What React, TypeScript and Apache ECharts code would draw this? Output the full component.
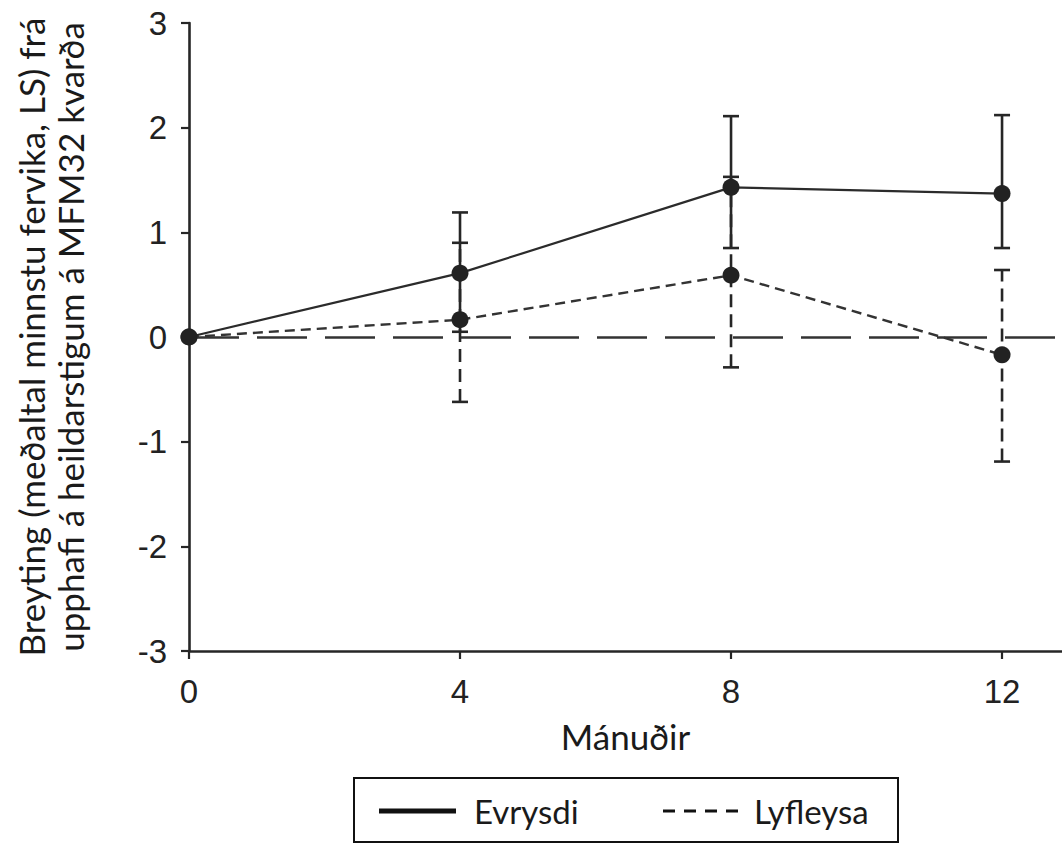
import React, { useEffect, useRef } from "react";
import * as echarts from "echarts";

const months = [0, 4, 8, 12];
const evrysdiMean = [0, 0.61, 1.43, 1.37];
const evrysdiLow = [0, 0.05, 0.85, 0.85];
const evrysdiHigh = [0, 1.19, 2.11, 2.12];
const lyfleysaMean = [0, 0.165, 0.59, -0.17];
const lyfleysaLow = [0, -0.62, -0.29, -1.19];
const lyfleysaHigh = [0, 0.9, 1.53, 0.64];
const xTicks = [0, 4, 8, 12];
const seriesNames = ["Evrysdi", "Lyfleysa"];
const yTitle = "Breyting (meðaltal minnstu fervika, LS) frá\nupphafi á heildarstigum á MFM32 kvarða";
const xTitle = "Mánuðir";

const INK = "#262626";

function errorSeries(name: string, lows: number[], highs: number[], dash: number[] | null, z: number) {
  const data = months
    .map((m, i) => [m, lows[i], highs[i]])
    .filter((d) => d[1] !== d[2]);
  return {
    type: "custom",
    name: name + "-err",
    z,
    silent: true,
    data,
    renderItem: (params: any, api: any) => {
      const x = api.value(0);
      const lo = api.coord([x, api.value(1)]);
      const hi = api.coord([x, api.value(2)]);
      const w = 8;
      const style: any = { stroke: INK, lineWidth: 2.6, lineDash: dash || undefined };
      const capStyle: any = { stroke: INK, lineWidth: 2.6 };
      return {
        type: "group",
        children: [
          { type: "line", shape: { x1: lo[0], y1: lo[1], x2: hi[0], y2: hi[1] }, style },
          { type: "line", shape: { x1: lo[0] - w, y1: lo[1], x2: lo[0] + w, y2: lo[1] }, style: capStyle },
          { type: "line", shape: { x1: hi[0] - w, y1: hi[1], x2: hi[0] + w, y2: hi[1] }, style: capStyle },
        ],
      };
    },
  };
}

export default function App() {
  const ref = useRef<HTMLDivElement>(null);
  useEffect(() => {
    if (!ref.current) return;
    const chart = echarts.init(ref.current, null, { renderer: "svg" });
    const option: any = {
      animation: false,
      backgroundColor: "#ffffff",
      grid: { left: 189, right: 0, top: 23, bottom: 193 },
      xAxis: {
        type: "value",
        min: 0,
        max: 12.885,
        interval: 4,
        name: xTitle,
        nameLocation: "middle",
        nameGap: 67,
        nameTextStyle: { fontFamily: "Lato", fontSize: 35, color: "#1a1a1a" },
        axisLine: { onZero: false, lineStyle: { color: INK, width: 2.6 } },
        axisTick: { show: true, length: 8, lineStyle: { color: INK, width: 2.2 }, customValues: xTicks },
        axisLabel: {
          margin: 24,
          fontFamily: "Liberation Sans",
          fontSize: 33,
          color: "#222",
          customValues: xTicks,
        },
        splitLine: { show: false },
      },
      yAxis: {
        type: "value",
        min: -3,
        max: 3,
        interval: 1,
        name: yTitle,
        nameLocation: "middle",
        nameRotate: 90,
        nameGap: 100,
        nameTextStyle: { fontFamily: "Lato", fontSize: 35, lineHeight: 39, color: "#1a1a1a", align: "center" },
        axisLine: { show: true, onZero: false, lineStyle: { color: INK, width: 2.6 } },
        axisTick: { show: true, length: 8, lineStyle: { color: INK, width: 2.2 } },
        axisLabel: { margin: 22, fontFamily: "Liberation Sans", fontSize: 33, color: "#222" },
        splitLine: { show: false },
      },
      series: [
        errorSeries(seriesNames[1], lyfleysaLow, lyfleysaHigh, [13, 7], 2),
        errorSeries(seriesNames[0], evrysdiLow, evrysdiHigh, null, 3),
        {
          type: "line",
          name: seriesNames[1],
          z: 4,
          data: months.map((m, i) => [m, lyfleysaMean[i]]),
          symbol: "circle",
          symbolSize: 17,
          itemStyle: { color: "#222" },
          lineStyle: { color: "#333", width: 2.4, type: [10, 6] },
          markLine: {
            silent: true,
            symbol: "none",
            label: { show: false },
            lineStyle: { color: "#333", width: 2.6, type: [50, 18] },
            data: [{ yAxis: 0 }],
          },
        },
        {
          type: "line",
          name: seriesNames[0],
          z: 5,
          data: months.map((m, i) => [m, evrysdiMean[i]]),
          symbol: "circle",
          symbolSize: 17,
          itemStyle: { color: "#222" },
          lineStyle: { color: "#2b2b2b", width: 2.2, type: "solid" },
        },
      ],
      graphic: [
        {
          type: "group",
          left: 353,
          top: 777,
          children: [
            { type: "rect", shape: { x: 0, y: 0, width: 544, height: 64 }, style: { fill: "#fff", stroke: "#111", lineWidth: 2 } },
            { type: "line", shape: { x1: 25, y1: 33, x2: 102, y2: 33 }, style: { stroke: "#111", lineWidth: 5 } },
            {
              type: "text",
              x: 120,
              y: 33,
              style: { text: seriesNames[0], fontFamily: "Lato", fontSize: 33, fill: "#1a1a1a", verticalAlign: "middle", align: "left" },
            },
            { type: "line", shape: { x1: 309, y1: 33, x2: 385, y2: 33 }, style: { stroke: "#111", lineWidth: 3, lineDash: [12, 9] } },
            {
              type: "text",
              x: 400,
              y: 33,
              style: { text: seriesNames[1], fontFamily: "Lato", fontSize: 33, fill: "#1a1a1a", verticalAlign: "middle", align: "left" },
            },
          ],
        },
      ],
    };
    chart.setOption(option);
    return () => chart.dispose();
  }, []);
  return <div ref={ref} style={{ position: "absolute", left: 0, top: 0, width: 1062, height: 844 }} />;
}
